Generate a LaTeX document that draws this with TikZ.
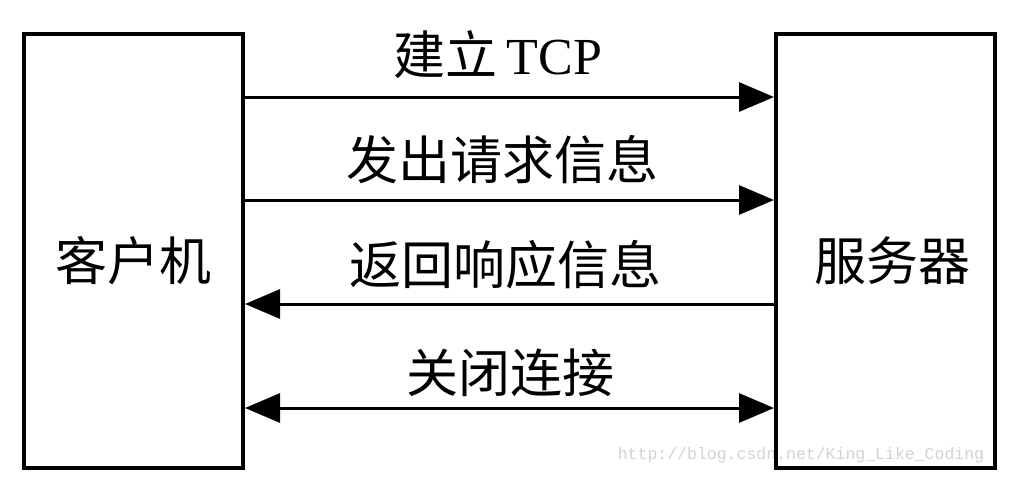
\documentclass[tikz,border=0pt]{standalone}
\usepackage{fontspec}
\setmainfont{Liberation Serif}
\newfontfamily\cjk{Noto Sans CJK SC}
\newfontfamily\wmfont{Liberation Mono}
\usetikzlibrary{arrows.meta}

\begin{document}
\begin{tikzpicture}[x=1pt,y=-1pt,
    bigtri/.tip={Triangle[length=35pt,width=29pt]},
    hostbox/.style={draw,line width=4pt,minimum width=219pt,minimum height=434pt,inner sep=0pt},
    msg/.style={line width=3pt,-bigtri},
    msgboth/.style={line width=3pt,bigtri-bigtri},
    lbl/.style={inner sep=0pt,font=\fontsize{52}{52}\selectfont\cjk}]
    \useasboundingbox (0,0) rectangle (1016,490);
    \node[gray!35,inner sep=0pt,font=\fontsize{16.5}{16.5}\selectfont\wmfont] (mark) at (801,455) {http://blog.csdn.net/King\_Like\_Coding};
    \node[hostbox] (client) at (133.5,251) {};
    \node[hostbox] (server) at (885.5,251) {};
    \node[lbl] (clientname) at (133,261) {客户机};
    \node[lbl] (servername) at (892,261) {服务器};
    \coordinate (r1) at (0,97);\coordinate (r2) at (0,200);
    \coordinate (r3) at (0,304);\coordinate (r4) at (0,408);
    \draw[msg] (client.east |- r1) -- (server.west |- r1);
    \draw[msg] (client.east |- r2) -- (server.west |- r2);
    \draw[msg] (server.west |- r3) -- (client.east |- r3);
    \draw[msgboth] (client.east |- r4) -- (server.west |- r4);
    \node[lbl] (connect) at (498,55) {建立\,{\rmfamily TCP}};
    \node[lbl] (request) at (502,160) {发出请求信息};
    \node[lbl] (reply) at (505,265) {返回响应信息};
    \node[lbl] (close) at (510,373) {关闭连接};
\end{tikzpicture}
\end{document}
